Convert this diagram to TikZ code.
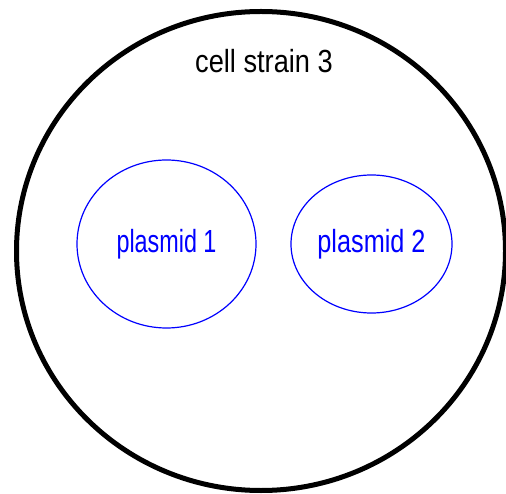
\documentclass[tikz,border=0pt]{standalone}
\usepackage{fontspec}
\setmainfont{Liberation Sans}
\usetikzlibrary{shapes.geometric}
\tikzstyle{cellnode} = [ellipse, draw, line width=5pt, inner sep=0pt]
\tikzstyle{plasmidnode} = [ellipse, draw=blue, line width=1.2pt, inner sep=0pt, text=blue, font=\fontsize{32}{36}\selectfont]
\tikzstyle{labelnode} = [inner sep=0pt, font=\fontsize{32}{36}\selectfont]

\begin{document}
\begin{tikzpicture}[x=1pt, y=-1pt]

\useasboundingbox (0,0) rectangle (506,494);

% Nodes
\node (cell) [cellnode, minimum width=489pt, minimum height=479pt] at (261,251) {};
\node (cellname) [labelnode, anchor=base] at (264,73) {\scalebox{0.85}[1]{cell strain 3}};
\node (plasmidA) [plasmidnode, minimum width=179pt, minimum height=168pt] at (166.5,244) {\scalebox{0.73}[1]{plasmid 1}};
\node (plasmidB) [plasmidnode, minimum width=161pt, minimum height=138pt] at (371.5,244) {\scalebox{0.79}[1]{plasmid 2}};

\end{tikzpicture}
\end{document}
